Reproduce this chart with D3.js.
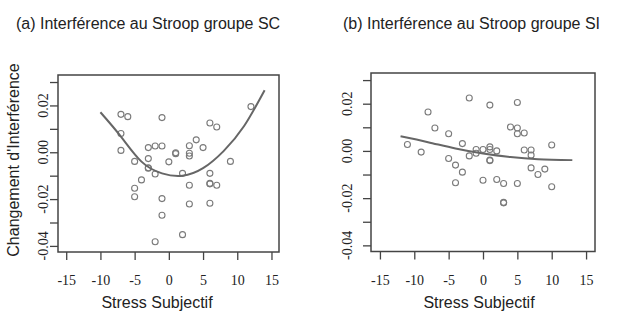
<!DOCTYPE html>
<html>
<head>
<meta charset="utf-8">
<script src="https://cdn.jsdelivr.net/npm/d3@7"></script>
<style>
  body { margin: 0; background: #fff; }
  .tick text { font-family: "Liberation Serif", serif; font-size: 14px; fill: #222; }
  .lab { font-family: "Liberation Sans", Arial, sans-serif; font-size: 16px; fill: #222; }
</style>
</head>
<body>
<svg id="mainsvg"></svg>
<script>
// panel (a) : groupe SC
let scX = [-7, -6, -1, -7, -7, -5, -3, -2, -1, -3, -3, -3, -2, -4, -5, -5, -1, -1, -2, 0, 1, 1, 2, 2, 3, 3, 3, 3, 3, 4, 5, 6, 7, 6, 6, 6, 7, 6, 9, 12];
let scY = [0.0162, 0.0152, 0.0148, 0.0080, 0.0008, -0.0039, 0.0020, 0.0027, 0.0027, -0.0027, -0.0066, -0.0068, -0.0093, -0.0118, -0.0154, -0.0190, -0.0198, -0.0269, -0.0382, -0.0041, -0.0002, -0.0006, -0.0090, -0.0352, 0.0028, -0.0004, -0.0016, -0.0141, -0.0221, 0.0053, 0.0020, 0.0125, 0.0108, -0.0090, -0.0135, -0.0133, -0.0141, -0.0218, -0.0039, 0.0195];
let scFitX = [-10, -7, -4, -1, 2, 5, 8, 11, 14];
let scFitY = [0.0171, 0.0067, -0.0040, -0.0090, -0.0100, -0.0068, 0.0005, 0.0112, 0.0265];

// panel (b) : groupe SI
let siX = [-11, -9, -8, -7, -5, -5, -4, -4, -3, -3, -2, -2, -1, -1, 0, 0, 1, 1, 1, 1, 1, 2, 2, 3, 3, 3, 5, 4, 5, 5, 6, 5, 6, 7, 7, 7, 8, 9, 10, 10];
let siY = [0.0027, -0.0005, 0.0165, 0.0097, 0.0073, -0.0032, -0.0060, -0.0135, 0.0031, -0.0090, 0.0224, -0.0021, -0.0010, 0.0006, 0.0006, -0.0124, 0.0194, 0.0017, 0.0006, -0.0039, -0.0041, 0.0000, -0.0121, -0.0138, -0.0218, -0.0220, 0.0205, 0.0101, 0.0097, 0.0073, 0.0076, -0.0138, 0.0004, 0.0004, -0.0018, -0.0072, -0.0100, -0.0077, 0.0025, -0.0152];
let siFitX = [-12, -8, -4, 0, 4, 8, 13];
let siFitY = [0.0062, 0.0037, 0.0010, -0.0011, -0.0026, -0.0035, -0.0039];

let xTicks = [-15, -10, -5, 0, 5, 10, 15];
let yTicks = [-0.04, -0.03, -0.02, -0.01, 0, 0.01, 0.02, 0.03];
let yLabels = [-0.04, -0.02, 0, 0.02];
let titles = ["(a) Interférence au Stroop groupe SC", "(b) Interférence au Stroop groupe SI"];

let svgWidth = 618, svgHeight = 311;
let mainsvg = d3.select("#mainsvg").attr("width", svgWidth).attr("height", svgHeight);

// plain hyphen minus like the R output
let fmtX = d => String(d);
let fmtY = d => d3.format(".2f")(d).replace("\u2212", "-");

let panels = [
  {x: scX, y: scY, fx: scFitX, fy: scFitY, title: titles[0], box: {l: 58, r: 279, t: 75, b: 252},
   xdom: [-16.2, 16.1], titleX: 16, xlabX: 157, ylabX: 47.5},
  {x: siX, y: siY, fx: siFitX, fy: siFitY, title: titles[1], box: {l: 371, r: 595, t: 73, b: 251.5},
   xdom: [-16.3, 16.3], titleX: 343, xlabX: 479, ylabX: 351.5}
];

panels.forEach(p => {
  let g = mainsvg.append("g");
  let scaleX = d3.scaleLinear().domain(p.xdom).range([p.box.l, p.box.r]);
  let scaleY = d3.scaleLinear().domain([-0.0426, 0.0330]).range([p.box.b, p.box.t]);

  g.append("text").attr("class", "lab").attr("x", p.titleX).attr("y", 29).text(p.title);

  // x axis
  let ax = g.append("g").attr("transform", `translate(0,${p.box.b})`)
    .call(d3.axisBottom(scaleX).tickValues(xTicks).tickSize(8).tickFormat(fmtX));
  ax.select(".domain").remove();
  ax.selectAll("line").attr("stroke", "#444").attr("stroke-width", 1.3);
  ax.selectAll("text").attr("dy", 0).attr("y", 33);

  // y axis
  let ay = g.append("g").attr("transform", `translate(${p.box.l},0)`)
    .call(d3.axisLeft(scaleY).tickValues(yTicks).tickSize(8).tickFormat(""));
  ay.select(".domain").remove();
  ay.selectAll("line").attr("stroke", "#444").attr("stroke-width", 1.3);
  g.selectAll(".ylab").data(yLabels).enter().append("text")
    .attr("class", "ylab")
    .attr("transform", d => `translate(${p.ylabX},${scaleY(d)}) rotate(-90)`)
    .attr("text-anchor", "middle")
    .style("font-family", "'Liberation Serif', serif").style("font-size", "14px").style("fill", "#222")
    .text(fmtY);

  // box
  g.append("rect").attr("x", p.box.l).attr("y", p.box.t)
    .attr("width", p.box.r - p.box.l).attr("height", p.box.b - p.box.t)
    .attr("fill", "none").attr("stroke", "#444").attr("stroke-width", 1.5);

  // points
  g.selectAll("circle").data(p.x.map((d, i) => [d, p.y[i]])).enter().append("circle")
    .attr("cx", d => scaleX(d[0])).attr("cy", d => scaleY(d[1])).attr("r", 3)
    .attr("fill", "none").attr("stroke", "#7a7a7a").attr("stroke-width", 1.1);

  // fitted curve
  let line = d3.line().x(d => scaleX(d[0])).y(d => scaleY(d[1])).curve(d3.curveNatural);
  g.append("path").datum(p.fx.map((d, i) => [d, p.fy[i]]))
    .attr("d", line).attr("fill", "none").attr("stroke", "#666").attr("stroke-width", 2);

  g.append("text").attr("class", "lab").attr("x", p.xlabX).attr("y", 308)
    .attr("text-anchor", "middle").text("Stress Subjectif");
});

mainsvg.append("text").attr("class", "lab")
  .attr("transform", "translate(19,160) rotate(-90)")
  .attr("text-anchor", "middle").text("Changement d'Interférence");
</script>
</body>
</html>
